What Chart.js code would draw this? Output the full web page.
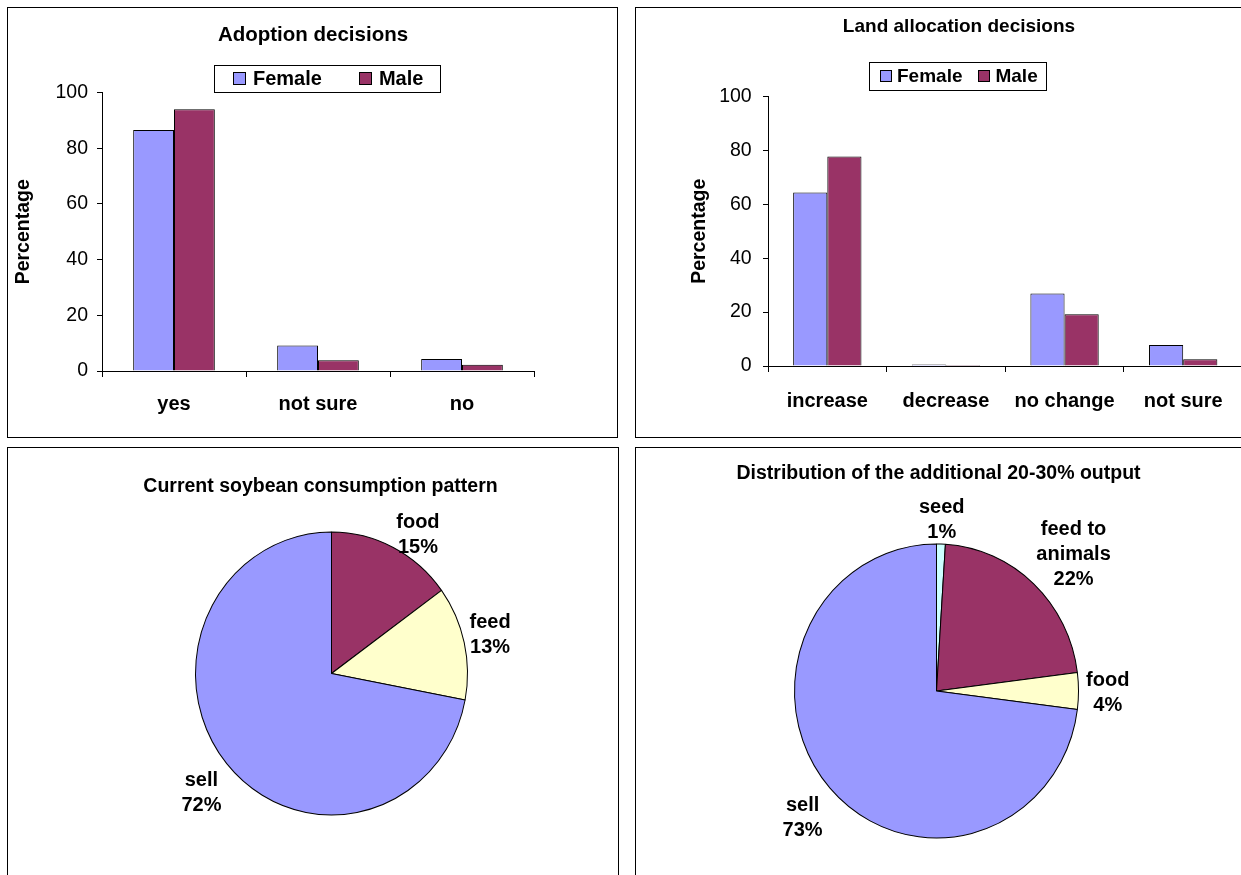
<!DOCTYPE html>
<html>
<head>
<meta charset="utf-8">
<title>Soybean survey charts</title>
<script src="https://cdn.jsdelivr.net/npm/chart.js@4.4.1/dist/chart.umd.min.js"></script>
<style>
  html, body { margin: 0; padding: 0; background: #fff; width: 1241px; height: 875px; overflow: hidden; }
  .panel { position: absolute; border: 1px solid #000; box-sizing: border-box; background: #fff; }
  .panel canvas { position: absolute; left: 0; top: 0; }
</style>
</head>
<body>
<div class="panel" style="left:7px;top:7px;width:611px;height:431px"><canvas id="adoption" width="609" height="429"></canvas></div>
<div class="panel" style="left:635px;top:7px;width:660px;height:431px"><canvas id="land" width="640" height="429"></canvas></div>
<div class="panel" style="left:7px;top:447px;width:612px;height:440px"><canvas id="consumption" width="610" height="427"></canvas></div>
<div class="panel" style="left:635px;top:447px;width:660px;height:440px"><canvas id="output" width="640" height="427"></canvas></div>

<script>
// ---- data ----
const seriesNames = ['Female', 'Male'];
const percentTicks = [0, 20, 40, 60, 80, 100];

const adoptionCategories = ['yes', 'not sure', 'no'];
const adoptionFemale = [86.5, 9.2, 4.3];
const adoptionMale = [94.0, 3.9, 2.2];

const landCategories = ['increase', 'decrease', 'no change', 'not sure'];
const landFemale = [64.4, 0.6, 26.9, 7.8];
const landMale = [77.7, 0.4, 19.2, 2.5];

const consumptionCategories = ['food', 'feed', 'sell'];
const consumptionShares = [15, 13, 72];

const outputCategories = ['seed', ['feed to', 'animals'], 'food', 'sell'];
const outputShares = [1, 22, 4, 73];

// ---- styling ----
const FONT = '"Liberation Sans", Arial, Helvetica, sans-serif';
const LILAC = '#9999FF';
const PLUM = '#993366';
const CREAM = '#FFFFCC';
const AQUA = '#CCFFFF';

Chart.defaults.font.family = FONT;
Chart.defaults.color = '#000';

// Chart heading drawn at a fixed spot inside the panel
const headingPlugin = {
  id: 'heading',
  afterDraw(chart, args, o) {
    const ctx = chart.ctx;
    ctx.save();
    ctx.font = `bold ${o.size}px ${FONT}`;
    ctx.fillStyle = '#000';
    ctx.textAlign = 'center';
    ctx.textBaseline = 'middle';
    ctx.fillText(o.text, o.x, o.y);
    ctx.restore();
  }
};

// Boxed legend built from the datasets
const boxLegendPlugin = {
  id: 'boxLegend',
  afterDraw(chart, args, o) {
    const ctx = chart.ctx;
    ctx.save();
    ctx.font = `bold ${o.size}px ${FONT}`;
    const items = chart.data.datasets.map(d => ({
      text: d.label, color: d.backgroundColor, w: ctx.measureText(d.label).width
    }));
    let width = o.padL + o.padR;
    items.forEach((it, i) => { width += o.box + o.gap + it.w + (i ? o.spacing : 0); });
    width = Math.round(width);
    ctx.fillStyle = '#fff';
    ctx.fillRect(o.x, o.y, width, o.h);
    ctx.strokeStyle = '#000';
    ctx.lineWidth = 1;
    ctx.strokeRect(o.x + 0.5, o.y + 0.5, width, o.h);
    const cy = o.y + o.h / 2;
    let x = o.x + o.padL;
    items.forEach((it, i) => {
      if (i) x += o.spacing;
      const bx = Math.round(x), by = Math.round(cy - o.box / 2);
      ctx.fillStyle = it.color;
      ctx.fillRect(bx, by, o.box, o.box);
      ctx.strokeRect(bx + 0.5, by + 0.5, o.box - 1, o.box - 1);
      x += o.box + o.gap;
      ctx.fillStyle = '#000';
      ctx.textAlign = 'left';
      ctx.textBaseline = 'middle';
      ctx.fillText(it.text, x, cy + 1);
      x += it.w;
    });
    ctx.restore();
  }
};

// Slightly oval pies: stretch the slices vertically around the pie centre
const ovalPlugin = {
  id: 'oval',
  beforeDatasetsDraw(chart, args, o) {
    const arc = chart.getDatasetMeta(0).data[0];
    const ctx = chart.ctx;
    ctx.save();
    ctx.translate(arc.x, arc.y);
    ctx.scale(1, o.stretch);
    ctx.translate(-arc.x, -arc.y);
  },
  afterDatasetsDraw(chart) {
    chart.ctx.restore();
  }
};

// Category + percentage labels outside each slice
const pieLabelPlugin = {
  id: 'pieLabels',
  afterDraw(chart, args, o) {
    const ctx = chart.ctx;
    const meta = chart.getDatasetMeta(0);
    const values = chart.data.datasets[0].data;
    const stretch = chart.options.plugins.oval.stretch;
    ctx.save();
    ctx.font = `bold ${o.size}px ${FONT}`;
    ctx.fillStyle = '#000';
    ctx.textAlign = 'center';
    ctx.textBaseline = 'middle';
    meta.data.forEach((arc, i) => {
      const p = arc.getProps(['x', 'y', 'startAngle', 'endAngle', 'outerRadius'], true);
      const [turn, reach] = o.place[i];
      const a = (p.startAngle + p.endAngle) / 2 + turn * Math.PI / 180;
      const r = p.outerRadius * reach;
      const cx = p.x + Math.cos(a) * r;
      const cy = p.y + Math.sin(a) * r * stretch;
      const name = chart.data.labels[i];
      const lines = (Array.isArray(name) ? name : [name]).concat([values[i] + '%']);
      lines.forEach((t, k) => {
        ctx.fillText(t, cx, cy + (k - (lines.length - 1) / 2) * o.lineHeight);
      });
    });
    ctx.restore();
  }
};

function barChart(id, categories, female, male, g) {
  return new Chart(document.getElementById(id), {
    type: 'bar',
    data: {
      labels: categories,
      datasets: [
        { label: seriesNames[0], data: female, backgroundColor: LILAC, borderColor: '#000', borderWidth: 1 },
        { label: seriesNames[1], data: male, backgroundColor: PLUM, borderColor: '#000', borderWidth: 1 }
      ]
    },
    options: {
      responsive: false,
      animation: false,
      events: [],
      layout: { padding: { left: 0, top: g.top, right: g.right, bottom: g.bottom } },
      datasets: { bar: { barPercentage: 1, categoryPercentage: g.cat } },
      plugins: {
        legend: { display: false },
        title: { display: false },
        tooltip: { enabled: false },
        heading: g.heading,
        boxLegend: g.legend
      },
      scales: {
        x: {
          offset: true,
          grid: { display: true, offset: true, drawOnChartArea: false, drawTicks: true, tickLength: 6, color: '#000' },
          border: { display: true, color: '#000', width: 1 },
          ticks: { color: '#000', font: { size: 20, weight: 'bold' }, padding: g.xPad, maxRotation: 0, autoSkip: false },
          afterFit: s => { s.height = 50; }
        },
        y: {
          min: 0,
          max: 100,
          afterBuildTicks: s => { s.ticks = percentTicks.map(v => ({ value: v })); },
          grid: { display: true, drawOnChartArea: false, drawTicks: true, tickLength: 5, color: '#000' },
          border: { display: true, color: '#000', width: 1 },
          ticks: { color: '#000', font: { size: 19.5 }, padding: g.yPad },
          title: {
            display: true, text: 'Percentage', color: '#000',
            font: { size: 19.5, weight: 'bold' }, padding: { top: g.titlePad, bottom: 0 }
          },
          afterFit: s => { s.width = g.yWidth; }
        }
      }
    },
    plugins: [headingPlugin, boxLegendPlugin]
  });
}

function pieChart(id, categories, shares, colors, g) {
  return new Chart(document.getElementById(id), {
    type: 'pie',
    data: {
      labels: categories,
      datasets: [{ data: shares, backgroundColor: colors, borderColor: '#000', borderWidth: 1, clip: false }]
    },
    options: {
      responsive: false,
      animation: false,
      events: [],
      layout: { padding: g.padding },
      plugins: {
        legend: { display: false },
        title: { display: false },
        tooltip: { enabled: false },
        heading: g.heading,
        oval: { stretch: g.stretch },
        pieLabels: { size: 20, lineHeight: 25, place: g.place }
      }
    },
    plugins: [ovalPlugin, headingPlugin, pieLabelPlugin]
  });
}

barChart('adoption', adoptionCategories, adoptionFemale, adoptionMale, {
  top: 84.5, right: 83, bottom: 16, cat: 0.567,
  xPad: 15.3, yPad: 9, yWidth: 94, titlePad: 3.6,
  heading: { text: 'Adoption decisions', x: 305, y: 27, size: 20.5 },
  legend: { x: 206, y: 57, h: 27, size: 20, padL: 19, box: 13, gap: 7, spacing: 37, padR: 17 }
});

barChart('land', landCategories, landFemale, landMale, {
  top: 88.5, right: 33.5, bottom: 21, cat: 0.576,
  xPad: 17, yPad: 11.3, yWidth: 132, titlePad: 52.3,
  heading: { text: 'Land allocation decisions', x: 323, y: 18.7, size: 19 },
  legend: { x: 233, y: 54, h: 28, size: 19, padL: 11, box: 12, gap: 5, spacing: 16, padR: 8 }
});

pieChart('consumption', consumptionCategories, consumptionShares, [PLUM, CREAM, LILAC], {
  padding: { left: 187, top: 89, right: 150, bottom: 65 },
  stretch: 141.5 / 136,
  heading: { text: 'Current soybean consumption pattern', x: 312.5, y: 38.7, size: 19.5 },
  place: [[5.9, 1.17], [-0.5, 1.197], [-1.9, 1.277]]
});

pieChart('output', outputCategories, outputShares, [AQUA, PLUM, CREAM, LILAC], {
  padding: { left: 158, top: 100.5, right: 197, bottom: 41.5 },
  stretch: 147 / 142,
  heading: { text: 'Distribution of the additional 20-30% output', x: 302.5, y: 25.3, size: 19.5 },
  place: [[0, 1.167], [3.0, 1.337], [0.6, 1.206], [-1.1, 1.279]]
});
</script>
</body>
</html>
